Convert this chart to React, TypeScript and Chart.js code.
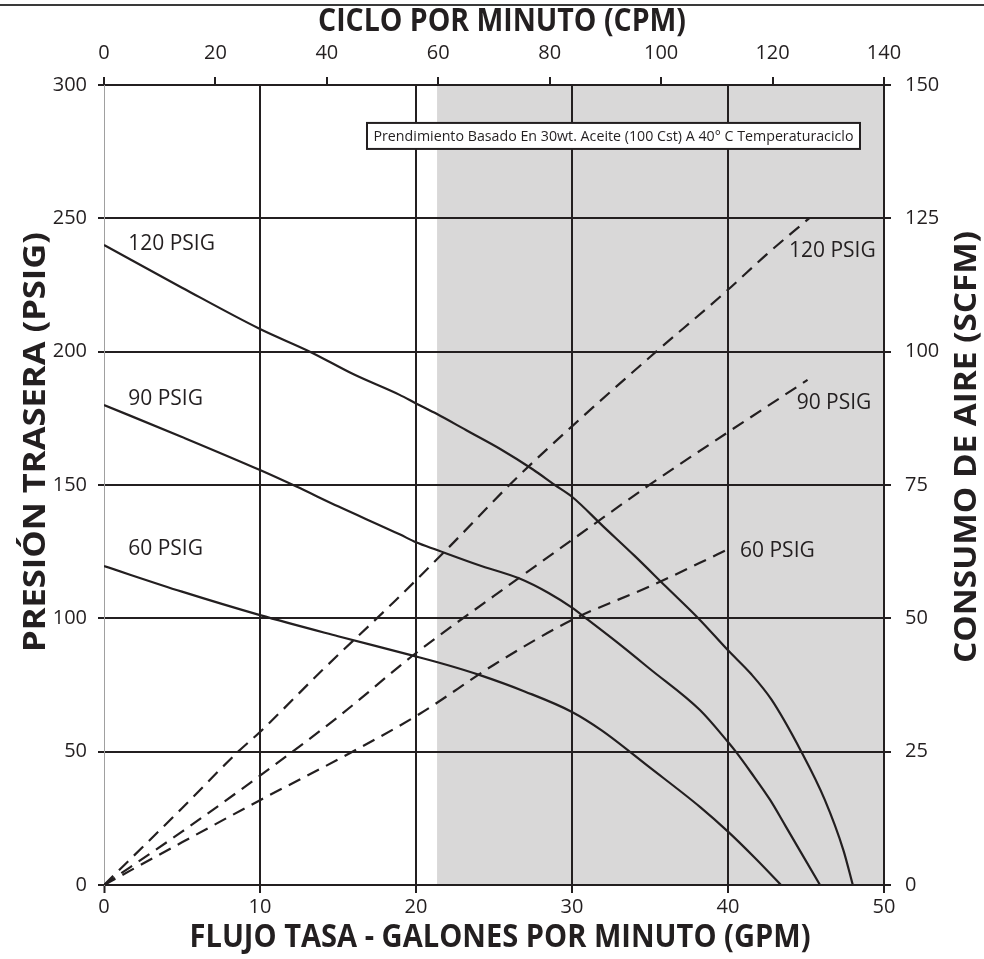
import React, { useEffect, useRef } from "react";
import { Chart, registerables } from "chart.js";

Chart.register(...registerables);

const W = 984;
const H = 959;
const FONT = "'Open Sans', 'Noto Sans', sans-serif";
const INK = "#231f20";
const SHADE = "#d9d8d8";

// ---- Back pressure curves (left axis, PSIG) vs flow (GPM) ----
const gpm120 = [0, 5, 10, 13.2, 16, 18.95, 20, 21.35, 23.2, 25.4, 27.5, 28.9, 30, 32, 34, 36, 38.2, 40, 41.5, 42.8, 44.7, 46.2, 47.4, 48];
const psi120 = [240, 224, 208.5, 200, 191.5, 183.8, 180.6, 176.6, 170.6, 163.5, 155.8, 150, 145.6, 134.5, 123.5, 112, 99.4, 88, 79, 69.4, 50, 32, 13, 0];

const gpm90 = [0, 5, 10, 12.3, 15, 18.95, 20, 21.35, 24, 26.6, 28.5, 30, 30.9, 33, 35, 38.2, 40, 40.5, 41.5, 42.7, 43.7, 44.6, 45.9];
const psi90 = [180, 168, 155.6, 149.5, 142, 131.5, 128.5, 125.6, 120, 115, 109.5, 104, 100, 90.5, 81, 65.6, 53.6, 50, 42, 31.9, 22, 13, 0];

const gpm60 = [0, 5, 10, 15, 19.8, 22, 24.1, 27, 30, 31.9, 35, 38.2, 40, 41.7, 43.4];
const psi60 = [119.6, 110, 101.2, 93.3, 86, 82.5, 78.7, 72.5, 64.9, 58, 44, 29.3, 20, 10.3, 0];

// ---- Air consumption (right axis, SCFM) vs flow (GPM) ----
const gpmAir120 = [0, 5, 8.6, 10, 14, 18.7, 22, 26.3, 30, 35, 40, 42.5, 45.2];
const scfmAir120 = [0, 14.4, 25, 28.7, 40.3, 53.4, 63, 75.9, 86, 99, 111.6, 118.3, 125];

const gpmAir90 = [0, 5, 10, 15, 20, 25, 30, 35.1, 40, 45.1];
const scfmAir90 = [0, 10, 20.5, 31.5, 43.5, 54.2, 64.7, 75.3, 84.9, 94.7];

const gpmAir60 = [0, 5, 10, 15.75, 20.3, 25, 30, 35, 38.2, 39.9];
const scfmAir60 = [0, 8, 15.9, 24.7, 32.2, 41.3, 49.7, 56, 60.4, 62.8];

// ---- Text ----
const curveNames = ["120 PSIG", "90 PSIG", "60 PSIG"];
const titleTop = "CICLO POR MINUTO (CPM)";
const titleBottom = "FLUJO TASA - GALONES POR MINUTO (GPM)";
const titleLeft = "PRESIÓN TRASERA (PSIG)";
const titleRight = "CONSUMO DE AIRE (SCFM)";
const noteText = "Prendimiento Basado En 30wt. Aceite (100 Cst) A 40° C Temperaturaciclo";

// ---- Axis ranges ----
const GPM_MAX = 50;
const CPM_MAX = 140;
const PSI_MAX = 300;
const SCFM_MAX = 150;
const SHADE_FROM_GPM = 21.35;

// label anchors in data coordinates (GPM, PSIG) – left/baseline
const leftLabelPos = [[1.55, 238.1], [1.55, 180], [1.55, 123.75]];
const rightLabelPos = [[43.91, 235.5], [44.4, 178.5], [40.77, 123]];
const NOTE_POS = [32.66, 280.9];

function fitText(ctx: CanvasRenderingContext2D, text: string, x: number, y: number, width: number, font: string, angle: number) {
  ctx.save();
  ctx.translate(x, y);
  ctx.rotate(angle);
  ctx.font = font;
  const w = ctx.measureText(text).width;
  ctx.scale(width / w, 1);
  ctx.textAlign = "center";
  ctx.textBaseline = "alphabetic";
  ctx.fillStyle = INK;
  ctx.fillText(text, 0, 0);
  ctx.restore();
}

export default function App() {
  const ref = useRef<HTMLCanvasElement>(null);

  useEffect(() => {
    document.body.style.margin = "0";
    const canvas = ref.current!;
    const pts = (xs: number[], ys: number[]) => xs.map((x, i) => ({ x, y: ys[i] }));
    const solid = (xs: number[], ys: number[]) => ({
      data: pts(xs, ys),
      xAxisID: "x",
      yAxisID: "y",
      borderColor: INK,
      borderWidth: 2.2,
      pointRadius: 0,
      cubicInterpolationMode: "monotone" as const,
      fill: false,
    });
    const dashed = (xs: number[], ys: number[]) => ({
      data: pts(xs, ys),
      xAxisID: "x",
      yAxisID: "y2",
      borderColor: INK,
      borderWidth: 2.2,
      borderDash: [13, 8],
      pointRadius: 0,
      cubicInterpolationMode: "monotone" as const,
      fill: false,
    });

    const shadePlugin = {
      id: "shade",
      beforeDraw(chart: any) {
        const { ctx, chartArea: a, scales } = chart;
        const x0 = scales.x.getPixelForValue(SHADE_FROM_GPM);
        ctx.save();
        ctx.fillStyle = SHADE;
        ctx.fillRect(x0, a.top, a.right - x0, a.bottom - a.top);
        ctx.restore();
      },
    };

    const overlayPlugin = {
      id: "overlay",
      afterDatasetsDraw(chart: any) {
        const { ctx, scales } = chart;
        const sx = scales.x;
        const sy = scales.y;
        ctx.save();
        ctx.fillStyle = INK;
        ctx.font = `21px ${FONT}`;
        ctx.textAlign = "left";
        ctx.textBaseline = "alphabetic";
        curveNames.forEach((name, i) => {
          ctx.fillText(name, sx.getPixelForValue(leftLabelPos[i][0]), sy.getPixelForValue(leftLabelPos[i][1]));
          ctx.fillText(name, sx.getPixelForValue(rightLabelPos[i][0]), sy.getPixelForValue(rightLabelPos[i][1]));
        });
        // note box
        const cx = sx.getPixelForValue(NOTE_POS[0]);
        const cy = sy.getPixelForValue(NOTE_POS[1]);
        const bw = 493;
        const bh = 26;
        ctx.fillStyle = "#ffffff";
        ctx.fillRect(cx - bw / 2, cy - bh / 2, bw, bh);
        ctx.strokeStyle = INK;
        ctx.lineWidth = 2;
        ctx.strokeRect(cx - bw / 2, cy - bh / 2, bw, bh);
        ctx.restore();
        fitText(ctx, noteText, cx, cy + 5, 480, `15px ${FONT}`, 0);
      },
      afterDraw(chart: any) {
        const { ctx } = chart;
        ctx.save();
        ctx.fillStyle = "#3a3a3a";
        ctx.fillRect(0, 4, W, 2);
        ctx.restore();
        fitText(ctx, titleTop, 502, 31, 368, `bold 32px ${FONT}`, 0);
        fitText(ctx, titleBottom, 500, 947, 621, `bold 32px ${FONT}`, 0);
        fitText(ctx, titleLeft, 45, 442, 420, `bold 31px ${FONT}`, -Math.PI / 2);
        fitText(ctx, titleRight, 976, 447, 432, `bold 31px ${FONT}`, -Math.PI / 2);
      },
    };

    const tickFont = { family: FONT, size: 20 };
    const isZero = (c: any) => c.tick && c.tick.value === 0;

    const chart = new Chart(canvas, {
      type: "line",
      data: {
        datasets: [
          solid(gpm120, psi120),
          solid(gpm90, psi90),
          solid(gpm60, psi60),
          dashed(gpmAir120, scfmAir120),
          dashed(gpmAir90, scfmAir90),
          dashed(gpmAir60, scfmAir60),
        ] as any,
      },
      options: {
        responsive: false,
        devicePixelRatio: 1,
        animation: false,
        layout: { padding: 0 },
        plugins: { legend: { display: false }, tooltip: { enabled: false } },
        scales: {
          x: {
            type: "linear",
            position: "bottom",
            min: 0,
            max: GPM_MAX,
            ticks: { stepSize: 10, font: tickFont, color: INK, padding: 2, maxRotation: 0, autoSkip: false },
            grid: {
              color: (c: any) => (isZero(c) ? "#a0a0a0" : INK),
              lineWidth: (c: any) => (isZero(c) ? 1 : 2),
              tickColor: INK,
              tickWidth: 2,
              tickLength: 8,
            },
            border: { display: true, color: INK, width: 2 },
            afterFit: (s: any) => { s.height = 74; },
          },
          x2: {
            type: "linear",
            position: "top",
            min: 0,
            max: CPM_MAX,
            ticks: { stepSize: 20, font: tickFont, color: INK, padding: 12, maxRotation: 0, autoSkip: false },
            grid: { drawOnChartArea: false, color: INK, tickColor: INK, tickWidth: 2, lineWidth: 2, tickLength: 8 },
            border: { display: true, color: INK, width: 2 },
            afterFit: (s: any) => { s.height = 85; },
          },
          y: {
            type: "linear",
            position: "left",
            min: 0,
            max: PSI_MAX,
            ticks: { stepSize: 50, font: tickFont, color: INK, padding: 11 },
            grid: { color: INK, lineWidth: 2, tickColor: INK, tickWidth: 2, tickLength: 6 },
            border: { display: true, color: "#a0a0a0", width: 1 },
            afterFit: (s: any) => { s.width = 104; },
          },
          y2: {
            type: "linear",
            position: "right",
            min: 0,
            max: SCFM_MAX,
            ticks: { stepSize: 25, font: tickFont, color: INK, padding: 14 },
            grid: { drawOnChartArea: false, color: INK, lineWidth: 2, tickColor: INK, tickWidth: 2, tickLength: 7 },
            border: { display: true, color: INK, width: 2 },
            afterFit: (s: any) => { s.width = 100; },
          },
        } as any,
      },
      plugins: [shadePlugin, overlayPlugin],
    });

    return () => chart.destroy();
  }, []);

  return (
    <div style={{ width: W, height: H, background: "#ffffff" }}>
      <canvas ref={ref} width={W} height={H} style={{ display: "block" }} />
    </div>
  );
}
